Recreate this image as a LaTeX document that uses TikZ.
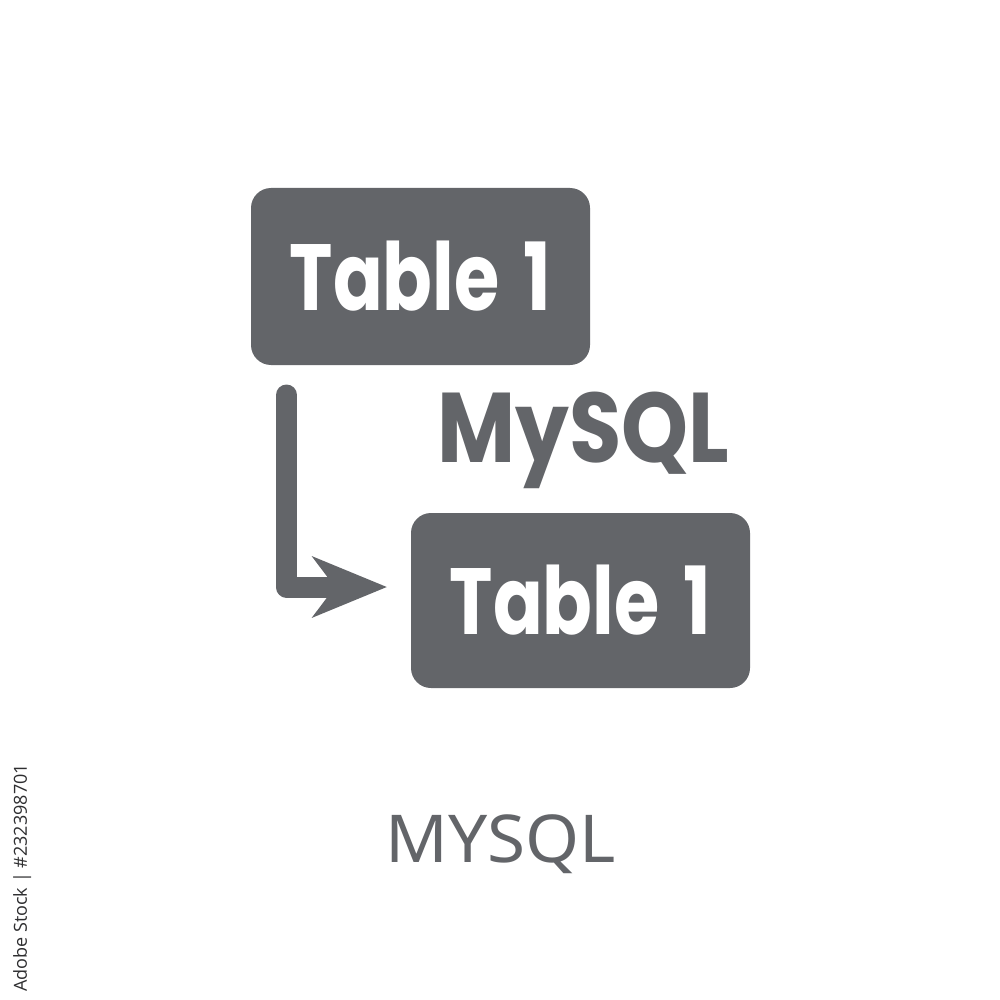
\documentclass[tikz,border=0pt]{standalone}
\usepackage{fontspec}
\usetikzlibrary{arrows.meta}
\newfontfamily\popfont{Poppins}
\newfontfamily\notofont{Noto Sans}
\newfontfamily\osfont{Open Sans}
\definecolor{icongray}{HTML}{636569}
\definecolor{wmgray}{HTML}{2E2E30}
\tikzset{
  tbox/.style={fill=icongray, rounded corners=20pt, inner sep=0pt,
    minimum width=339pt, text=white,
    font=\popfont\bfseries\fontsize{94}{94}\selectfont},
  flowline/.style={draw=icongray, line width=21pt, line cap=round, line join=round,
    -{Stealth[length=74pt,width=60pt,inset=22pt]}},
}
\begin{document}
\begin{tikzpicture}[x=1pt,y=-1pt]
\useasboundingbox[fill=white] (0,0) rectangle (1000,1000);
\node[tbox, minimum height=177pt] (t1) at (420.5,276.5) {\scalebox{0.78}[1]{Table\ \hspace{0.12em}1}};
\node[tbox, minimum height=175pt] (t2) at (580.5,600.5) {\scalebox{0.78}[1]{Table\ \hspace{0.12em}1}};
\node[text=icongray, inner sep=0pt, anchor=base west,
  font=\popfont\bfseries\fontsize{99}{99}\selectfont] (ms) at (437,462) {\scalebox{0.86}[1]{MySQL}};
\coordinate (a1) at (286.5,395);
\coordinate (a2) at (387,587);
\path[flowline] (a1) |- (a2);
\node[text=icongray, inner sep=0pt, anchor=base,
  font=\notofont\fontsize{66}{66}\selectfont] (cap) at (501,862) {\scalebox{1.05}[1]{MYSQL}};
\node[text=wmgray, inner sep=0pt, anchor=base west, rotate=90,
  font=\osfont\fontsize{18}{18}\selectfont] (wm) at (27,992) {Adobe Stock | \#232398701};
\end{tikzpicture}
\end{document}
